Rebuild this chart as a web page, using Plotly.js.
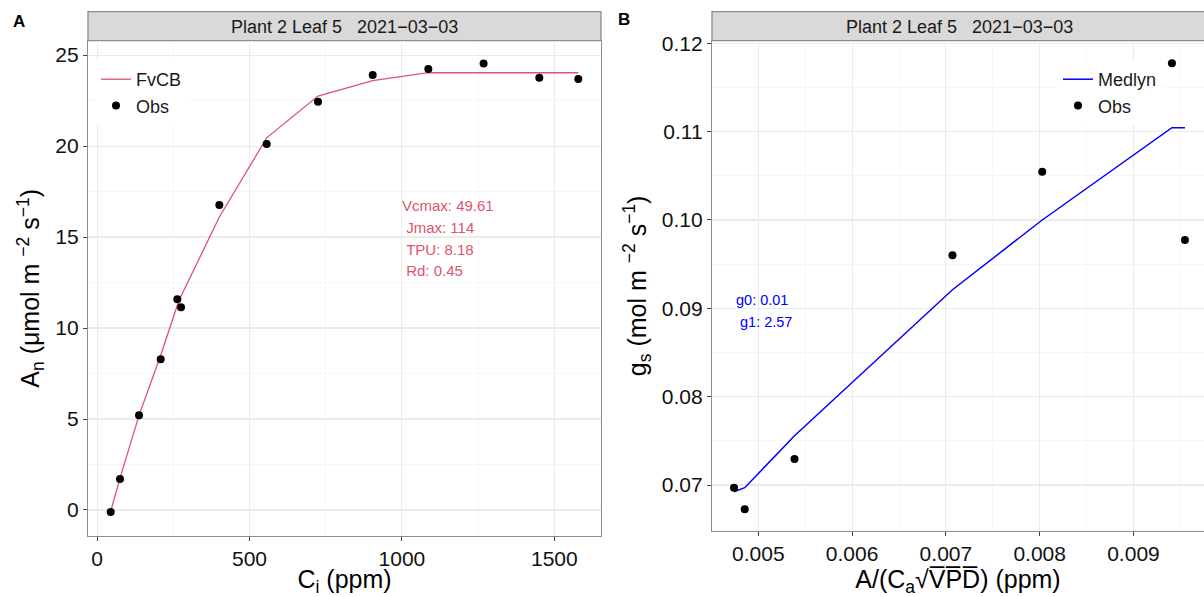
<!DOCTYPE html>
<html>
<head>
<meta charset="utf-8">
<script src="https://cdn.plot.ly/plotly-3.0.1.min.js"></script>
<style>html,body{margin:0;padding:0;background:#fff;}#chart{width:1204px;height:597px;}</style>
</head>
<body>
<div id="chart"></div>
<script>
// ---- Panel A data (A/Ci curve) ----
var ciObs   = [44.6, 75.1, 137.5, 208.6, 263.2, 275.3, 401, 556.3, 724.7, 904.2, 1086.7, 1268, 1450.8, 1578.7];
var anObs   = [-0.11, 1.70, 5.20, 8.28, 11.58, 11.14, 16.76, 20.11, 22.43, 23.90, 24.23, 24.54, 23.75, 23.68];
var anFvcb  = [-0.08, 1.75, 5.20, 8.50, 11.25, 11.75, 16.10, 20.45, 22.75, 23.60, 24.03, 24.03, 24.03, 24.03];
var fvcbParams = ["Vcmax: 49.61", "\u00a0Jmax: 114", "\u00a0TPU: 8.18", "\u00a0Rd: 0.45"];

// ---- Panel B data (Medlyn) ----
var medX     = [0.004741, 0.004855, 0.005386, 0.00707, 0.008027, 0.009410, 0.009549];
var gsObs    = [0.0697, 0.06725, 0.07294, 0.0960, 0.10547, 0.11774, 0.09773];
var gsMedlyn = [0.06924, 0.0697, 0.07558, 0.0921, 0.1000, 0.11045, 0.11045];
var medlynParams = ["g0: 0.01", "\u00a0g1: 2.57"];

var stripLabel = "Plant 2 Leaf 5 \u00a0 2021\u221203\u221203";
var FONT = "Liberation Sans, Arial, Helvetica, sans-serif";
var RED = "#DF536B", BLUE = "#0000FF";
var W = 1204, H = 597;
function px(x){return x/W;}
function py(y){return 1 - y/H;}

var traces = [
  {x: ciObs, y: anFvcb, type: "scatter", mode: "lines", name: "FvCB",
   line: {color: RED, width: 1.3}, xaxis: "x", yaxis: "y", legend: "legend"},
  {x: ciObs, y: anObs, type: "scatter", mode: "markers", name: "Obs",
   marker: {color: "#000", size: 8}, xaxis: "x", yaxis: "y", legend: "legend"},
  {x: medX, y: gsMedlyn, type: "scatter", mode: "lines", name: "Medlyn",
   line: {color: BLUE, width: 1.5}, xaxis: "x2", yaxis: "y2", legend: "legend2"},
  {x: medX, y: gsObs, type: "scatter", mode: "markers", name: "Obs",
   marker: {color: "#000", size: 8}, xaxis: "x2", yaxis: "y2", legend: "legend2"}
];

var LINEC = "#8c8c8c";
var baseAxis = {
  showline: true, linecolor: LINEC, linewidth: 1.2,
  ticks: "outside", ticklen: 4, tickcolor: "#444", tickwidth: 1,
  showgrid: true, gridcolor: "#EBEBEB", gridwidth: 1.1,
  zeroline: false, tickfont: {family: FONT, size: 21, color: "#111"},
  tickmode: "linear", fixedrange: true
};
function ax(o){ return Object.assign({}, baseAxis, o); }

var annotations = [];
fvcbParams.forEach(function(t, i){
  var ys = [16.76, 15.53, 14.32, 13.15];
  annotations.push({x: 995, y: ys[i], xref: "x", yref: "y", text: t, showarrow: false,
    xanchor: "left", yanchor: "middle", font: {family: FONT, size: 15, color: RED}});
});
medlynParams.forEach(function(t, i){
  var ys = [0.09094, 0.08842];
  annotations.push({x: 0.004741, y: ys[i], xref: "x2", yref: "y2", text: t, showarrow: false,
    xanchor: "left", yanchor: "middle", font: {family: FONT, size: 14.5, color: BLUE}});
});
annotations.push({x: px(344.5), y: py(27), xref: "paper", yref: "paper", text: stripLabel,
  showarrow: false, xanchor: "center", yanchor: "middle", font: {family: FONT, size: 18, color: "#1a1a1a"}});
annotations.push({x: px(959.5), y: py(27), xref: "paper", yref: "paper", text: stripLabel,
  showarrow: false, xanchor: "center", yanchor: "middle", font: {family: FONT, size: 18, color: "#1a1a1a"}});
annotations.push({x: px(18.5), y: py(21), xref: "paper", yref: "paper", text: "<b>A</b>",
  showarrow: false, xanchor: "center", yanchor: "middle", font: {family: FONT, size: 17, color: "#000"}});
annotations.push({x: px(623.5), y: py(19.5), xref: "paper", yref: "paper", text: "<b>B</b>",
  showarrow: false, xanchor: "center", yanchor: "middle", font: {family: FONT, size: 17, color: "#000"}});

var layout = {
  width: W, height: H, margin: {l: 0, r: 0, t: 0, b: 0},
  paper_bgcolor: "#fff", plot_bgcolor: "#fff",
  font: {family: FONT, color: "#1a1a1a"},
  showlegend: true,
  xaxis: ax({domain: [px(88), px(601)], range: [-29.9, 1653.2], tick0: 0, dtick: 500, mirror: true,
    anchor: "y",
    minor: {dtick: 250, tick0: 0, showgrid: true, gridcolor: "#F3F3F3", gridwidth: 0.7, ticks: ""},
    title: {text: "C<sub>i</sub> (ppm)", font: {family: FONT, size: 25, color: "#000"}, standoff: 4}}),
  yaxis: ax({domain: [py(536), py(40.7)], range: [-1.43, 25.79], tick0: 0, dtick: 5, mirror: true,
    anchor: "x",
    minor: {dtick: 2.5, tick0: 0, showgrid: true, gridcolor: "#F3F3F3", gridwidth: 0.7, ticks: ""},
    title: {text: "A<sub>n</sub> (\u03bcmol m <sup>\u22122</sup> s<sup>\u22121</sup>)", font: {family: FONT, size: 25, color: "#000"}, standoff: 8}}),
  xaxis2: ax({domain: [px(712), 1], range: [0.004506, 0.009752], tick0: 0.005, dtick: 0.001, mirror: true,
    anchor: "y2",
    minor: {dtick: 0.0005, tick0: 0.005, showgrid: true, gridcolor: "#F3F3F3", gridwidth: 0.7, ticks: ""},
    title: {text: "A/(C<sub>a</sub>\u221aV\u0305P\u0305D\u0305) (ppm)", font: {family: FONT, size: 25, color: "#000"}, standoff: 4}}),
  yaxis2: ax({domain: [py(531), py(40.7)], range: [0.064793, 0.120294], tick0: 0.07, dtick: 0.01,
    anchor: "x2", tickformat: ".2f",
    minor: {dtick: 0.005, tick0: 0.07, showgrid: true, gridcolor: "#F3F3F3", gridwidth: 0.7, ticks: ""},
    title: {text: "g<sub>s</sub> (mol m <sup>\u22122</sup> s<sup>\u22121</sup>)", font: {family: FONT, size: 25, color: "#000"}, standoff: 8}}),
  legend: {x: px(96), y: py(61), xanchor: "left", yanchor: "top", bgcolor: "#fff",
    font: {family: FONT, size: 18, color: "#1a1a1a"}, itemwidth: 30, tracegroupgap: 0},
  legend2: {x: px(1058), y: py(61), xanchor: "left", yanchor: "top", bgcolor: "#fff",
    font: {family: FONT, size: 18, color: "#1a1a1a"}, itemwidth: 30, tracegroupgap: 0},
  shapes: [
    {type: "rect", xref: "paper", yref: "paper", x0: px(88), x1: px(601), y0: py(40.7), y1: py(11.7),
     fillcolor: "#D9D9D9", line: {color: LINEC, width: 1.3}, layer: "below"},
    {type: "rect", xref: "paper", yref: "paper", x0: px(712), x1: 1.02, y0: py(40.7), y1: py(11.7),
     fillcolor: "#D9D9D9", line: {color: LINEC, width: 1.3}, layer: "below"}
  ],
  annotations: annotations
};

Plotly.newPlot("chart", traces, layout, {displayModeBar: false, staticPlot: true});
</script>
</body>
</html>
